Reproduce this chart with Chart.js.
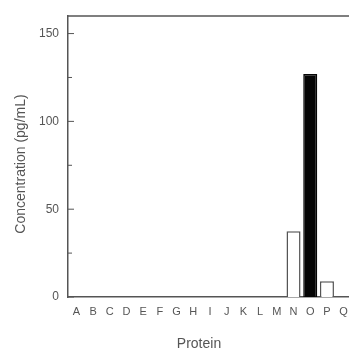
<!DOCTYPE html>
<html>
<head>
<meta charset="utf-8">
<script src="https://cdn.jsdelivr.net/npm/chart.js@4.4.0/dist/chart.umd.min.js"></script>
<style>
  html, body { margin: 0; padding: 0; background: #fff; overflow: hidden; }
  #wrap { width: 349px; height: 348px; overflow: hidden; }
</style>
</head>
<body>
<div id="wrap">
  <canvas id="chart1" width="356" height="351"></canvas>
</div>
<script>
const proteins = ['A','B','C','D','E','F','G','H','I','J','K','L','M','N','O','P','Q'];
const concentration = [0,0,0,0,0,0,0,0,0,0,0,0,0,37.5,127,9,0];
const yTicks = [0, 50, 100, 150];
const darkBars = ['O'];
const xTitle = 'Protein';
const yTitle = 'Concentration (pg/mL)';

const axisColor = '#555';
const textColor = '#555';

// box round the plot, inward tick marks, axis titles (the scan has them off-centre)
const framePlugin = {
  id: 'frame',
  afterDraw(chart) {
    const { ctx, chartArea, scales } = chart;
    ctx.save();
    ctx.strokeStyle = axisColor;
    ctx.lineWidth = 1.5;
    ctx.beginPath();
    ctx.moveTo(chartArea.left, chartArea.top);
    ctx.lineTo(chartArea.right, chartArea.top);
    ctx.stroke();
    ctx.lineWidth = 1;
    for (let v = 0; v <= 150; v += 25) {
      const y = scales.y.getPixelForValue(v);
      const len = v % 50 === 0 ? 6 : 4;
      ctx.beginPath();
      ctx.moveTo(chartArea.left, y);
      ctx.lineTo(chartArea.left + len, y);
      ctx.stroke();
    }
    ctx.fillStyle = textColor;
    ctx.font = '14px "Liberation Sans"';
    ctx.textAlign = 'center';
    ctx.textBaseline = 'middle';
    ctx.fillText(xTitle, 199, 344);
    ctx.translate(21, 164);
    ctx.rotate(-Math.PI / 2);
    ctx.fillText(yTitle, 0, 0);
    ctx.restore();
  }
};

new Chart(document.getElementById('chart1'), {
  type: 'bar',
  data: {
    labels: proteins,
    datasets: [{
      data: concentration,
      backgroundColor: (c) => darkBars.includes(proteins[c.dataIndex]) ? '#050505' : '#ffffff',
      borderColor: (c) => darkBars.includes(proteins[c.dataIndex]) ? '#050505' : '#555',
      borderWidth: (c) => concentration[c.dataIndex] > 0 ? 1.5 : 0,
      borderSkipped: 'start',
      barPercentage: 0.84,
      categoryPercentage: 1.0,
    }],
  },
  options: {
    responsive: false,
    animation: false,
    layout: { padding: { left: 0, right: 4, top: 16, bottom: 0 } },
    plugins: { legend: { display: false }, tooltip: { enabled: false } },
    scales: {
      x: {
        grid: { display: false, drawTicks: false },
        border: { display: true, color: axisColor, width: 1.5 },
        ticks: { color: textColor, font: { family: 'Liberation Sans', size: 11 }, padding: 8, maxRotation: 0, autoSkip: false },
        afterFit(scale) { scale.height = 54; scale.paddingLeft = 0; scale.paddingRight = 0; },
      },
      y: {
        min: 0,
        max: 160,
        afterBuildTicks(scale) { scale.ticks = yTicks.map(v => ({ value: v })); },
        grid: { display: false, drawTicks: false },
        border: { display: true, color: axisColor, width: 1.5 },
        ticks: { color: textColor, font: { family: 'Liberation Sans', size: 12 }, padding: 9 },
        afterFit(scale) { scale.width = 68; scale.paddingTop = 0; scale.paddingBottom = 0; },
      },
    },
  },
  plugins: [framePlugin],
});
</script>
</body>
</html>
